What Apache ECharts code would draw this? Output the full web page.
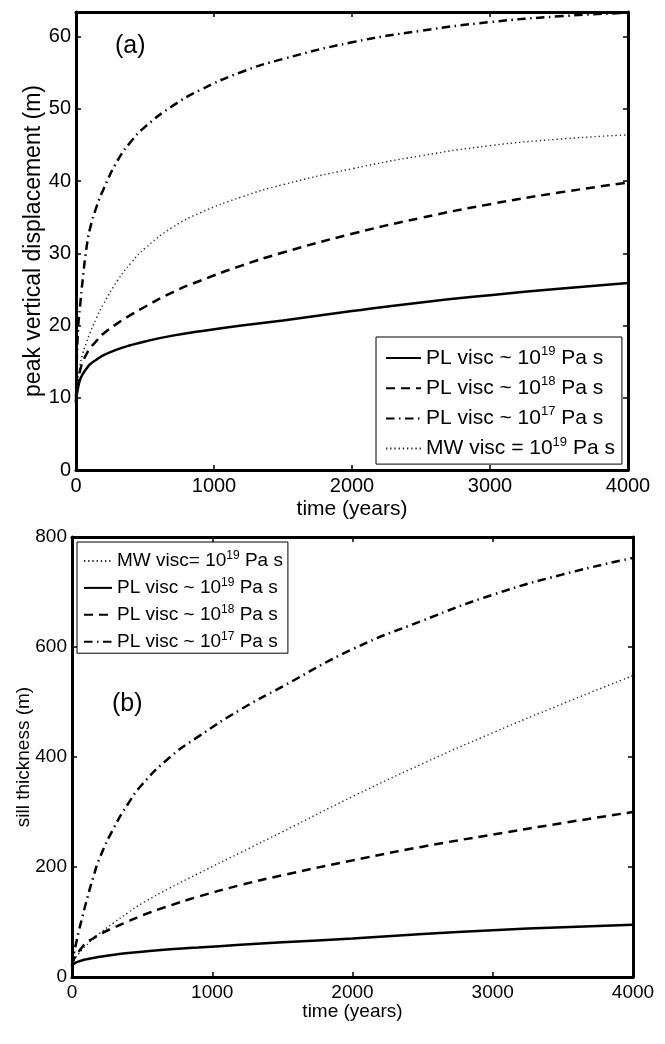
<!DOCTYPE html>
<html>
<head>
<meta charset="utf-8">
<script src="https://cdn.jsdelivr.net/npm/echarts@6.0.0/dist/echarts.min.js"></script>
<style>
  html, body { margin: 0; padding: 0; background: #fff; }
  #chart { width: 665px; height: 1044px; }
</style>
</head>
<body>
<div id="chart"></div>
<script>
// Sampling times (years) shared by every curve
const years = [0, 5, 15, 30, 50, 75, 100, 150, 200, 300, 400, 500, 700, 900, 1200, 1500, 2000, 2500, 3000, 3500, 4000];

// (a) peak vertical displacement (m)
const upliftPL19 = [9.3, 10.2, 11.4, 12.5, 13.3, 14.0, 14.6, 15.3, 15.9, 16.7, 17.3, 17.8, 18.6, 19.2, 20.0, 20.7, 22.0, 23.2, 24.2, 25.1, 25.9];
const upliftPL18 = [9.3, 10.5, 12.2, 13.8, 15.0, 16.0, 16.8, 17.9, 18.9, 20.3, 21.5, 22.6, 24.6, 26.2, 28.3, 30.1, 32.7, 34.9, 36.8, 38.4, 39.8];
const upliftPL17 = [9.5, 14.5, 19.5, 22.8, 26.6, 30.6, 33.3, 36.5, 38.9, 42.8, 45.5, 47.5, 50.4, 52.6, 55.1, 56.9, 59.2, 60.8, 62.0, 62.8, 63.3];
const upliftMW19 = [9.3, 10.5, 12.5, 14.6, 16.2, 17.6, 18.9, 21.1, 23.0, 26.2, 28.7, 30.7, 33.6, 35.6, 37.8, 39.5, 41.7, 43.5, 44.9, 45.8, 46.4];

// (b) sill thickness (m)
const sillPL19 = [20, 21.5, 24, 26.5, 28.5, 30.5, 32, 34.5, 37, 40.5, 43.5, 46, 50.5, 53.5, 58.5, 63, 70, 78, 85, 90.5, 95];
const sillPL18 = [22, 27, 33, 40, 47, 55, 62, 70, 78, 90, 101, 112, 130, 146, 167, 185, 212, 237, 259, 280, 300];
const sillPL17 = [20, 32, 45, 62, 85, 110, 135, 180, 218, 272, 315, 350, 400, 437, 486, 528, 596, 648, 695, 732, 762];
const sillMW19 = [22, 26, 31, 37, 43, 50, 57, 69, 80, 99, 117, 134, 162, 188, 226, 264, 328, 388, 444, 497, 548];

// Axis ranges and tick steps
const timeTicks = [0, 4000, 1000];
const upliftTicks = [0, 63.4, 10];
const sillTicks = [0, 800, 200];

// Legend entries (caret marks the exponent)
const nameMWa = 'MW visc = 10^19 Pa s';
const nameMWb = 'MW visc= 10^19 Pa s';
const namePL19 = 'PL visc ~ 10^19 Pa s';
const namePL18 = 'PL visc ~ 10^18 Pa s';
const namePL17 = 'PL visc ~ 10^17 Pa s';
const legendOrderA = [namePL19, namePL18, namePL17, nameMWa];
const legendOrderB = [nameMWb, namePL19, namePL18, namePL17];

const FONT = "'Liberation Sans', Arial, Helvetica, sans-serif";

const lineStyles = {
  pl19: { color: '#000', width: 2.5, type: 'solid' },
  pl18: { color: '#000', width: 2.5, type: [9, 6] },
  pl17: { color: '#000', width: 2.5, type: [8.5, 4.5, 1.5, 4.5] },
  mw19: { color: '#222', width: 1.4, type: [1.3, 2.9] }
};

function pairs(values) {
  return years.map((t, i) => [t, values[i]]);
}

function supLabel(name) {
  const parts = name.split('^');
  const exp = parts[1].slice(0, 2);
  const tail = parts[1].slice(2);
  return '{t|' + parts[0] + '}{s|' + exp + '}{t|' + tail + '}';
}

function plainNumber(v) {
  return String(v);
}

function axis(gridIndex, range, opts) {
  const a = {
    type: 'value',
    gridIndex: gridIndex,
    min: range[0],
    max: range[1],
    interval: range[2],
    nameMoveOverlap: false,
    splitLine: { show: false },
    axisLine: { show: true, onZero: false, lineStyle: { color: '#000', width: 3 } },
    axisTick: { show: true, inside: true, length: 5, lineStyle: { color: '#000', width: 1.5 } },
    axisLabel: { show: true, color: '#000', fontFamily: FONT, fontSize: 20, margin: 6, formatter: plainNumber }
  };
  return Object.assign(a, opts || {});
}

function mirror(gridIndex, range, position) {
  return axis(gridIndex, range, {
    position: position,
    axisLabel: { show: false }
  });
}

function lineSeries(name, style, values, gridIndex) {
  return {
    type: 'line',
    name: name,
    xAxisIndex: gridIndex * 2,
    yAxisIndex: gridIndex * 2,
    data: pairs(values),
    symbol: 'none',
    smooth: 0.5,
    lineStyle: style,
    itemStyle: { color: style.color },
    z: 3
  };
}

// Legend keys show only the line sample, not a marker
const hiddenMarker = { color: 'rgba(0,0,0,0)', borderWidth: 0, opacity: 0 };

const chart = echarts.init(document.getElementById('chart'), null, { renderer: 'canvas' });

const option = {
  animation: false,
  backgroundColor: '#fff',
  grid: [
    { left: 76, right: 37, top: 12, bottom: 574, containLabel: false },
    { left: 72, right: 32, top: 537, bottom: 67, containLabel: false }
  ],
  xAxis: [
    axis(0, timeTicks, {
      position: 'bottom',
      name: 'time (years)', nameLocation: 'middle', nameGap: 29,
      nameTextStyle: { color: '#000', fontFamily: FONT, fontSize: 21 }
    }),
    mirror(0, timeTicks, 'top'),
    axis(1, timeTicks, {
      position: 'bottom',
      axisLabel: { color: '#000', fontFamily: FONT, fontSize: 19, margin: 6, formatter: plainNumber },
      name: 'time (years)', nameLocation: 'middle', nameGap: 25,
      nameTextStyle: { color: '#000', fontFamily: FONT, fontSize: 19 }
    }),
    mirror(1, timeTicks, 'top')
  ],
  yAxis: [
    axis(0, upliftTicks, {
      position: 'left',
      axisLabel: { color: '#000', fontFamily: FONT, fontSize: 20, margin: 5, showMaxLabel: false, formatter: plainNumber },
      name: 'peak vertical displacement (m)', nameLocation: 'middle', nameGap: 31,
      nameTextStyle: { color: '#000', fontFamily: FONT, fontSize: 23 }
    }),
    mirror(0, upliftTicks, 'right'),
    axis(1, sillTicks, {
      position: 'left',
      axisLabel: { color: '#000', fontFamily: FONT, fontSize: 19, margin: 5, formatter: plainNumber },
      name: 'sill thickness (m)', nameLocation: 'middle', nameGap: 39,
      nameTextStyle: { color: '#000', fontFamily: FONT, fontSize: 19 }
    }),
    mirror(1, sillTicks, 'right')
  ],
  legend: [
    {
      data: legendOrderA,
      orient: 'vertical',
      left: 376, top: 337,
      padding: [8, 7, 5, 9],
      itemGap: 6.7,
      itemWidth: 35, itemHeight: 14,
      backgroundColor: '#fff',
      borderColor: '#000', borderWidth: 1, borderRadius: 0,
      selectedMode: false,
      itemStyle: hiddenMarker,
      formatter: supLabel,
      textStyle: {
        color: '#000', fontFamily: FONT,
        rich: {
          t: { fontFamily: FONT, fontSize: 21, lineHeight: 26, color: '#000' },
          s: { fontFamily: FONT, fontSize: 13, lineHeight: 13, verticalAlign: 'top', color: '#000' }
        }
      }
    },
    {
      data: legendOrderB,
      orient: 'vertical',
      left: 77, top: 542,
      padding: [7.5, 5, 2, 6],
      itemGap: 5.9,
      itemWidth: 28, itemHeight: 14,
      backgroundColor: '#fff',
      borderColor: '#000', borderWidth: 1, borderRadius: 0,
      selectedMode: false,
      itemStyle: hiddenMarker,
      formatter: supLabel,
      textStyle: {
        color: '#000', fontFamily: FONT,
        rich: {
          t: { fontFamily: FONT, fontSize: 19, lineHeight: 23, color: '#000' },
          s: { fontFamily: FONT, fontSize: 12, lineHeight: 12, verticalAlign: 'top', color: '#000' }
        }
      }
    }
  ],
  graphic: [
    { type: 'text', left: 115, top: 34, style: { text: '(a)', fontFamily: FONT, fontSize: 25, fill: '#000' }, z: 10 },
    { type: 'text', left: 112, top: 692, style: { text: '(b)', fontFamily: FONT, fontSize: 25, fill: '#000' }, z: 10 }
  ],
  series: [
    lineSeries(namePL19, lineStyles.pl19, upliftPL19, 0),
    lineSeries(namePL18, lineStyles.pl18, upliftPL18, 0),
    lineSeries(namePL17, lineStyles.pl17, upliftPL17, 0),
    lineSeries(nameMWa, lineStyles.mw19, upliftMW19, 0),
    lineSeries(nameMWb, lineStyles.mw19, sillMW19, 1),
    lineSeries(namePL19, lineStyles.pl19, sillPL19, 1),
    lineSeries(namePL18, lineStyles.pl18, sillPL18, 1),
    lineSeries(namePL17, lineStyles.pl17, sillPL17, 1)
  ]
};

chart.setOption(option);
</script>
</body>
</html>
